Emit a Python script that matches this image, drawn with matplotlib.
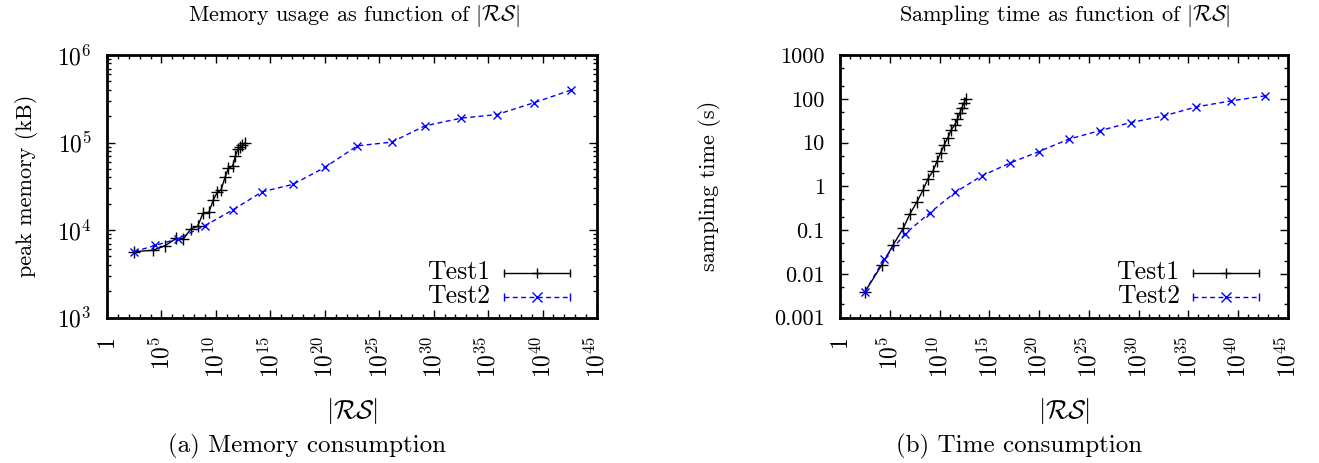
import numpy as np
import matplotlib.pyplot as plt
from matplotlib.ticker import FixedLocator, LogLocator, FuncFormatter, NullFormatter

plt.rcParams["font.family"] = ["cmr10", "DejaVu Serif"]
plt.rcParams["mathtext.fontset"] = "cm"
plt.rcParams["axes.unicode_minus"] = False
plt.rcParams["axes.formatter.use_mathtext"] = True

# |RS| as powers of ten
test1_log_rs = [2.5, 4.2, 5.35, 6.35, 7.02, 7.72, 8.32, 8.82, 9.35, 9.77,
                10.12, 10.48, 10.85, 11.14, 11.55, 11.8, 12.03, 12.23, 12.44, 12.66]
test2_log_rs = [2.5, 4.45, 6.55, 9.0, 11.55, 14.25, 17.06, 20.0, 22.99, 26.13,
                29.2, 32.53, 35.8, 39.25, 42.65]

# peak memory (kB)
test1_memory = [5660, 5860, 6620, 8030, 7910, 10350, 10990, 15630, 15890, 22180,
                26850, 28840, 40270, 50470, 54200, 70470, 83950, 88510, 93330, 98400]
test2_memory = [5660, 6680, 7960, 11220, 16940, 27350, 33190, 51880, 91620, 100900,
                154900, 189700, 208400, 285800, 399000]

# sampling time (s)
test1_time = [0.00385, 0.0159, 0.0462, 0.109, 0.232, 0.436, 0.802, 1.46, 2.25, 3.87,
              5.90, 8.97, 12.97, 19.1, 25.7, 34.1, 46.8, 61.8, 79.1, 100.7]
test2_time = [0.00385, 0.0222, 0.0824, 0.244, 0.721, 1.73, 3.38, 6.22, 11.94, 18.75,
              28.6, 40.6, 65.2, 89.1, 116.1]

series_labels = ["Test1", "Test2"]
x_major_exp = list(range(0, 50, 5))
time_ticks = [0.001, 0.01, 0.1, 1, 10, 100, 1000]
time_tick_labels = ["0.001", "0.01", "0.1", "1", "10", "100", "1000"]

x1 = 10.0 ** np.array(test1_log_rs)
x2 = 10.0 ** np.array(test2_log_rs)

BLUE = "#0000ff"
rs_label = r"$|\mathcal{RS}|$"
W, H = 1319, 463


def x_fmt(v, pos):
    e = int(round(np.log10(v)))
    return "1" if e == 0 else r"$10^{%d}$" % e


def style_axes(ax, ylabel_x):
    ax.set_xscale("log")
    ax.set_yscale("log")
    ax.set_xlim(1, 1e45)
    ax.xaxis.set_major_locator(FixedLocator([10.0 ** e for e in x_major_exp]))
    ax.xaxis.set_minor_locator(FixedLocator([10.0 ** e for e in range(46)]))
    ax.xaxis.set_major_formatter(FuncFormatter(x_fmt))
    ax.xaxis.set_minor_formatter(NullFormatter())
    ax.tick_params(which="both", direction="in", top=True, right=True,
                   labelsize=16, width=1.0)
    ax.tick_params(axis="x", which="major", labelrotation=90, pad=13, labelsize=17)
    ax.tick_params(axis="y", which="major", pad=11)
    ax.tick_params(which="major", length=6)
    ax.tick_params(which="minor", length=3)
    for sp in ax.spines.values():
        sp.set_linewidth(2.0)
    for lab in ax.get_xticklabels():
        lab.set_va("top")
    ax.set_xlabel(rs_label, fontsize=19)
    ax.xaxis.set_label_coords(0.5, -0.30)
    ax.yaxis.set_label_coords(ylabel_x, 0.5)


def draw_key(ax, x_text, x0, x1_, ys):
    styles = [
        dict(color="black", ls="-", marker="+"),
        dict(color=BLUE, ls=(0, (3.5, 2.5)), marker="x"),
    ]
    for lab, y, st in zip(series_labels, ys, styles):
        ax.text(x_text, y, lab, transform=ax.transAxes, ha="right", va="center",
                fontsize=18.5)
        ax.plot([x0, x1_], [y, y], transform=ax.transAxes, color=st["color"],
                ls=st["ls"], lw=1.0, clip_on=False)
        ax.plot([x0, x1_], [y, y], transform=ax.transAxes, color=st["color"],
                ls="none", marker="|", ms=6, mew=1.0, clip_on=False)
        ax.plot([(x0 + x1_) / 2], [y], transform=ax.transAxes, color=st["color"],
                ls="none", marker=st["marker"], ms=7, mew=1.0, clip_on=False)


fig = plt.figure(figsize=(W / 100, H / 100), dpi=100)
ax_m = fig.add_axes([107 / W, 1 - 317.5 / H, 490 / W, 262.5 / H])
ax_t = fig.add_axes([840 / W, 1 - 317.5 / H, 448 / W, 262.5 / H])

# memory
ax_m.plot(x1, test1_memory, color="black", lw=1.0, marker="+", ms=8, mew=1.0)
ax_m.plot(x2, test2_memory, color=BLUE, lw=1.0, ls=(0, (3.5, 2.5)),
          marker="x", ms=6, mew=1.0)
ax_m.set_ylabel("peak memory (kB)", fontsize=16)
style_axes(ax_m, -0.141)
ax_m.set_ylim(1e3, 1e6)
ax_m.yaxis.set_major_locator(LogLocator(base=10, numticks=10))
ax_m.yaxis.set_minor_locator(LogLocator(base=10, subs=np.arange(2, 10), numticks=10))
ax_m.yaxis.set_major_formatter(FuncFormatter(lambda v, p: r"$10^{%d}$" % round(np.log10(v))))
ax_m.yaxis.set_minor_formatter(NullFormatter())
ax_m.tick_params(axis="y", which="major", labelsize=17)
draw_key(ax_m, 0.782, 0.810, 0.945, [0.171, 0.080])

# time
ax_t.plot(x1, test1_time, color="black", lw=1.0, marker="+", ms=8, mew=1.0)
ax_t.plot(x2, test2_time, color=BLUE, lw=1.0, ls=(0, (3.5, 2.5)),
          marker="x", ms=6, mew=1.0)
ax_t.set_ylabel("sampling time (s)", fontsize=16)
style_axes(ax_t, -0.266)
ax_t.set_ylim(1e-3, 1e3)
ax_t.yaxis.set_major_locator(FixedLocator(time_ticks))
ax_t.yaxis.set_minor_locator(LogLocator(base=10, subs=[2, 5], numticks=12))
ax_t.yaxis.set_major_formatter(FuncFormatter(
    lambda v, p: time_tick_labels[p] if p is not None and p < len(time_tick_labels) else ""))
ax_t.yaxis.set_minor_formatter(NullFormatter())
draw_key(ax_t, 0.758, 0.788, 0.935, [0.171, 0.080])

fig.text(354 / W, 1 - 16 / H, r"Memory usage as function of $|\mathcal{RS}|$",
         ha="center", va="center", fontsize=16)
fig.text(1065 / W, 1 - 16 / H, r"Sampling time as function of $|\mathcal{RS}|$",
         ha="center", va="center", fontsize=16)
fig.text(307 / W, 1 - 446 / H, "(a) Memory consumption", ha="center",
         va="center", fontsize=18)
fig.text(1019 / W, 1 - 446 / H, "(b) Time consumption", ha="center",
         va="center", fontsize=18)

fig.savefig("out.png", dpi=100, facecolor="white")
